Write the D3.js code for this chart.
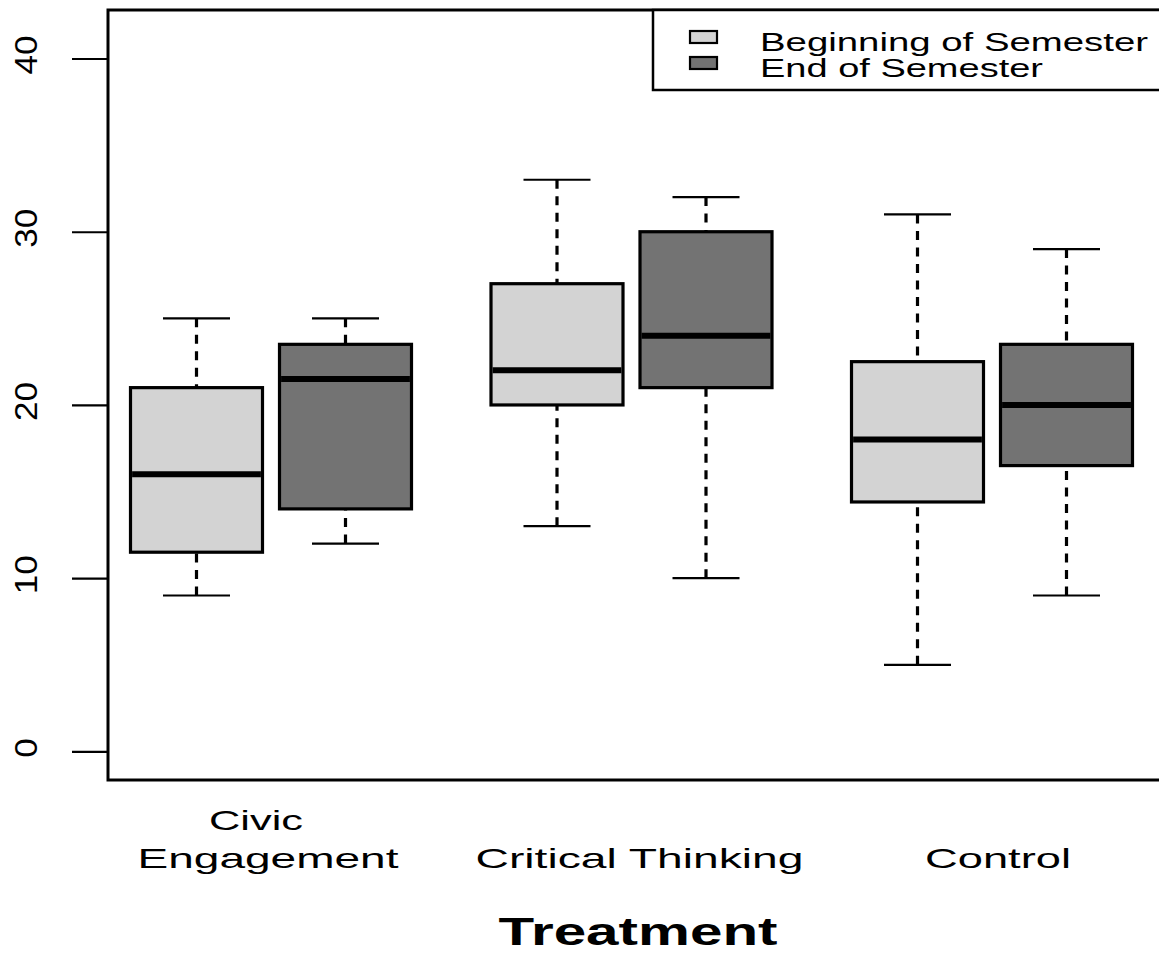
<!DOCTYPE html>
<html>
<head>
<meta charset="utf-8">
<script src="https://cdn.jsdelivr.net/npm/d3@7"></script>
<style>
  html, body { margin: 0; padding: 0; background: #fff; }
  svg { display: block; font-family: "Liberation Sans", Arial, Helvetica, sans-serif; }
</style>
</head>
<body>
<svg id="chart" width="1159" height="956"></svg>
<script>
// Groups along the x axis and the two measurement occasions
const categories = ["Civic\nEngagement", "Critical Thinking", "Control"];
const series = ["Beginning of Semester", "End of Semester"];
const seriesFill = ["#d3d3d3", "#737373"];

// Five-number summaries, one value per category
const beginLow    = [9,    13, 5];
const beginQ1     = [11.5, 20, 14.4];
const beginMedian = [16,   22, 18];
const beginQ3     = [21,   27, 22.5];
const beginHigh   = [25,   33, 31];

const endLow    = [12,   10, 9];
const endQ1     = [14,   21, 16.5];
const endMedian = [21.5, 24, 20];
const endQ3     = [23.5, 30, 23.5];
const endHigh   = [25,   32, 29];

const yTicks = [0, 10, 20, 30, 40];
const xTitle = "Treatment";

// Build the box records from the arrays above
const summaries = [
  {low: beginLow, q1: beginQ1, med: beginMedian, q3: beginQ3, high: beginHigh},
  {low: endLow,   q1: endQ1,   med: endMedian,   q3: endQ3,   high: endHigh}
];
const boxes = [];
categories.forEach((c, i) => {
  series.forEach((s, j) => {
    const S = summaries[j];
    boxes.push({cat: c, series: s, fill: seriesFill[j],
      low: S.low[i], q1: S.q1[i], med: S.med[i], q3: S.q3[i], high: S.high[i]});
  });
});

const svg = d3.select("#chart");
const plot = {left: 108, right: 1180, top: 10, bottom: 780};

const y = d3.scaleLinear().domain([-1.65, 42.8]).range([plot.bottom, plot.top]);
const xGroup = d3.scalePoint().domain(categories).range([271, 992]);
const xSeries = d3.scalePoint().domain(series).range([-74.5, 74.5]);
const boxW = 132, capW = 67;

// Boxes
const g = svg.append("g");
const bx = g.selectAll("g.box").data(boxes).join("g").attr("class", "box")
  .attr("transform", d => `translate(${xGroup(d.cat) + xSeries(d.series)},0)`);

// Whiskers: dashed stems drawn from the whisker end toward the box
bx.append("line").attr("x1", 0).attr("x2", 0)
  .attr("y1", d => y(d.high)).attr("y2", d => y(d.q3))
  .attr("stroke", "#000").attr("stroke-width", 3.2).attr("stroke-dasharray", "9,7.5");
bx.append("line").attr("x1", 0).attr("x2", 0)
  .attr("y1", d => y(d.low)).attr("y2", d => y(d.q1))
  .attr("stroke", "#000").attr("stroke-width", 3.2).attr("stroke-dasharray", "9,7.5");
// Whisker caps
bx.append("line").attr("x1", -capW / 2).attr("x2", capW / 2)
  .attr("y1", d => y(d.high)).attr("y2", d => y(d.high))
  .attr("stroke", "#000").attr("stroke-width", 2.2);
bx.append("line").attr("x1", -capW / 2).attr("x2", capW / 2)
  .attr("y1", d => y(d.low)).attr("y2", d => y(d.low))
  .attr("stroke", "#000").attr("stroke-width", 2.2);
// Interquartile box
bx.append("rect").attr("x", -boxW / 2).attr("width", boxW)
  .attr("y", d => y(d.q3)).attr("height", d => y(d.q1) - y(d.q3))
  .attr("fill", d => d.fill).attr("stroke", "#000").attr("stroke-width", 3.2);
// Median
bx.append("line").attr("x1", -boxW / 2 + 1.6).attr("x2", boxW / 2 - 1.6)
  .attr("y1", d => y(d.med)).attr("y2", d => y(d.med))
  .attr("stroke", "#000").attr("stroke-width", 6);

// Plot frame
svg.append("rect").attr("x", plot.left).attr("y", plot.top)
  .attr("width", plot.right - plot.left).attr("height", plot.bottom - plot.top)
  .attr("fill", "none").attr("stroke", "#000").attr("stroke-width", 3);

// Y axis with vertical tick labels
const yAxis = svg.append("g").attr("transform", `translate(${plot.left},0)`)
  .call(d3.axisLeft(y).tickValues(yTicks).tickSize(36).tickFormat(d3.format("d")));
yAxis.select(".domain").remove();
yAxis.selectAll(".tick line").attr("stroke", "#000").attr("stroke-width", 2.2);
yAxis.selectAll(".tick text")
  .attr("x", null).attr("dy", null)
  .attr("transform", "translate(-71,-4) rotate(-90)")
  .attr("text-anchor", "middle")
  .attr("font-size", 31).attr("fill", "#000")
  .attr("font-family", "'Liberation Sans', Arial, sans-serif")
  .attr("textLength", d => String(d).length * 19.5)
  .attr("lengthAdjust", "spacingAndGlyphs");

// Category labels (multi-line labels end on the common baseline)
const labelWidths = {"Civic": 94, "Engagement": 261, "Critical Thinking": 328, "Control": 146};
const labelShift = {"Civic": -15, "Engagement": -3, "Critical Thinking": 8, "Control": 6};
const catG = svg.append("g");
categories.forEach(c => {
  const lines = c.split("\n");
  const cx = xGroup(c);
  lines.forEach((ln, k) => {
    catG.append("text")
      .attr("x", cx).attr("dx", labelShift[ln]).attr("y", 868 - (lines.length - 1 - k) * 38)
      .attr("text-anchor", "middle").attr("font-size", 28)
      .attr("textLength", labelWidths[ln]).attr("lengthAdjust", "spacingAndGlyphs")
      .text(ln);
  });
});

// Axis title
svg.append("text").attr("x", 638).attr("y", 945)
  .attr("text-anchor", "middle").attr("font-size", 38).attr("font-weight", "bold")
  .attr("textLength", 279).attr("lengthAdjust", "spacingAndGlyphs")
  .text(xTitle);

// Legend
const leg = svg.append("g");
leg.append("rect").attr("x", 653).attr("y", plot.top).attr("width", 540).attr("height", 80)
  .attr("fill", "#fff").attr("stroke", "#000").attr("stroke-width", 2.5);
const legendWidths = [388, 283];
series.forEach((s, j) => {
  leg.append("rect").attr("x", 690).attr("y", 31 + j * 26).attr("width", 27).attr("height", 12)
    .attr("fill", seriesFill[j]).attr("stroke", "#000").attr("stroke-width", 2.2);
  leg.append("text").attr("x", 760).attr("y", 51 + j * 26)
    .attr("font-size", 25).attr("textLength", legendWidths[j]).attr("lengthAdjust", "spacingAndGlyphs")
    .text(s);
});
</script>
</body>
</html>
